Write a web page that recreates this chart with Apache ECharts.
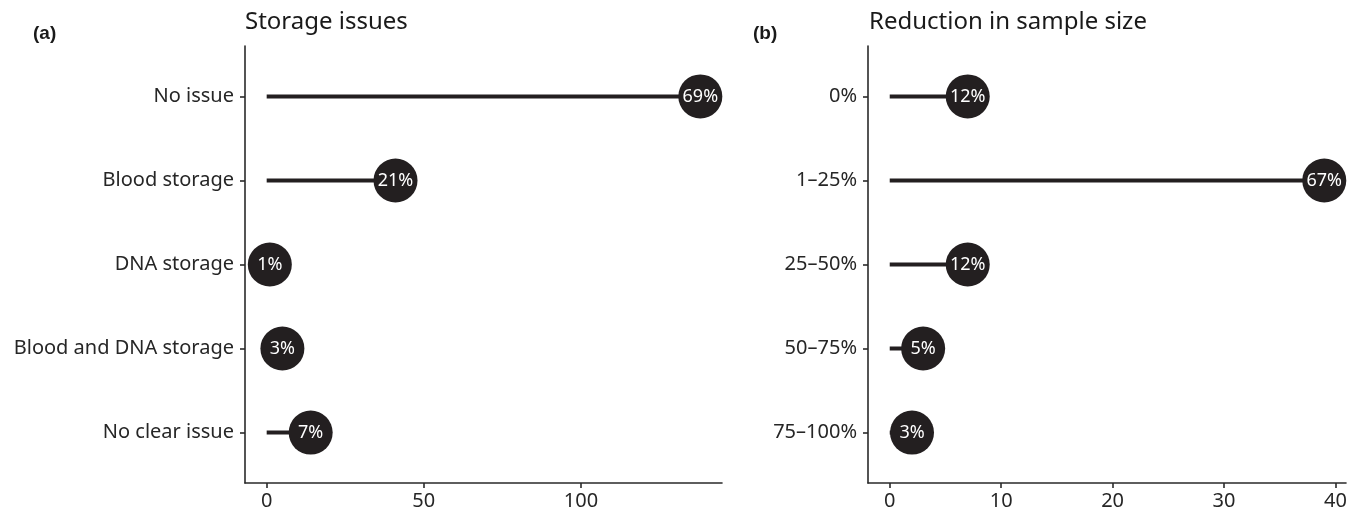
<!DOCTYPE html>
<html>
<head>
<meta charset="utf-8">
<script src="https://cdn.jsdelivr.net/npm/echarts@6/dist/echarts.min.js"></script>
<style>html,body{margin:0;padding:0;background:#fff;}#c{width:1359px;height:515px;}</style>
</head>
<body>
<div id="c"></div>
<script>
const storageCats = ['No issue', 'Blood storage', 'DNA storage', 'Blood and DNA storage', 'No clear issue'];
const storageVals = [138, 41, 1, 5, 14];
const storagePct = ['69%', '21%', '1%', '3%', '7%'];
const storageTicks = [0, 50, 100];

const reductionCats = ['0%', '1\u201325%', '25\u201350%', '50\u201375%', '75\u2013100%'];
const reductionVals = [7, 39, 7, 3, 2];
const reductionPct = ['12%', '67%', '12%', '5%', '3%'];
const reductionTicks = [0, 10, 20, 30, 40];

const INK = '#231f20';
const AXIS = '#2a2a2a';
const FONT = '"Noto Sans", "Open Sans", sans-serif';
const rows = [1, 2, 3, 4, 5];

function xAxisFor(idx, min, max, ticks) {
  return {
    type: 'value', gridIndex: idx, min: min, max: max,
    splitLine: {show: false},
    axisLine: {show: true, onZero: false, lineStyle: {color: AXIS, width: 1.6}},
    axisTick: {show: true, length: 5, customValues: ticks, lineStyle: {color: AXIS, width: 1.6}},
    axisLabel: {customValues: ticks, color: '#262626', fontSize: 20, fontFamily: FONT, margin: 8}
  };
}
function yAxisFor(idx, cats) {
  return {
    type: 'value', gridIndex: idx, min: 0.4, max: 5.6, inverse: true,
    splitLine: {show: false},
    axisLine: {show: true, onZero: false, lineStyle: {color: AXIS, width: 1.6}},
    axisTick: {show: true, length: 5, customValues: rows, lineStyle: {color: AXIS, width: 1.6}},
    axisLabel: {customValues: rows, color: '#262626', fontSize: 20, fontFamily: FONT, margin: 11,
      formatter: v => cats[Math.round(v) - 1]}
  };
}
function segSeries(idx, vals) {
  return {
    type: 'custom', xAxisIndex: idx, yAxisIndex: idx, silent: true,
    data: vals.map((v, i) => [v, i + 1]),
    renderItem: function (params, api) {
      const p0 = api.coord([0, api.value(1)]);
      const p1 = api.coord([api.value(0), api.value(1)]);
      return {type: 'line', shape: {x1: p0[0], y1: p0[1], x2: p1[0], y2: p1[1]},
        style: {stroke: INK, lineWidth: 4}};
    },
    z: 2
  };
}
function dotSeries(idx, vals, pct) {
  return {
    type: 'scatter', xAxisIndex: idx, yAxisIndex: idx, silent: true,
    data: vals.map((v, i) => [v, i + 1]),
    symbol: 'circle', symbolSize: 44,
    itemStyle: {color: INK, opacity: 1},
    label: {show: true, position: 'inside', color: '#ffffff', fontSize: 18, fontFamily: FONT,
      formatter: p => pct[p.dataIndex]},
    z: 3
  };
}

const chart = echarts.init(document.getElementById('c'), null, {renderer: 'canvas'});
chart.setOption({
  animation: false,
  backgroundColor: '#ffffff',
  title: [
    {text: '(a)', left: 28, top: 19, textStyle: {fontFamily: '"Liberation Sans", Arial, sans-serif', fontWeight: 'bold', fontSize: 19, color: '#1a1a1a'}},
    {text: 'Storage issues', left: 240, top: 5, textStyle: {fontFamily: FONT, fontWeight: 'normal', fontSize: 24, color: '#1a1a1a'}},
    {text: '(b)', left: 748, top: 19, textStyle: {fontFamily: '"Liberation Sans", Arial, sans-serif', fontWeight: 'bold', fontSize: 19, color: '#1a1a1a'}},
    {text: 'Reduction in sample size', left: 864, top: 5, textStyle: {fontFamily: FONT, fontWeight: 'normal', fontSize: 24, color: '#1a1a1a'}}
  ],
  grid: [
    {left: 245, top: 46, width: 477, height: 437},
    {left: 868, top: 46, width: 478, height: 437}
  ],
  xAxis: [xAxisFor(0, -6.9, 144.9, storageTicks), xAxisFor(1, -1.95, 40.95, reductionTicks)],
  yAxis: [yAxisFor(0, storageCats), yAxisFor(1, reductionCats)],
  series: [
    segSeries(0, storageVals), dotSeries(0, storageVals, storagePct),
    segSeries(1, reductionVals), dotSeries(1, reductionVals, reductionPct)
  ]
});
</script>
</body>
</html>
